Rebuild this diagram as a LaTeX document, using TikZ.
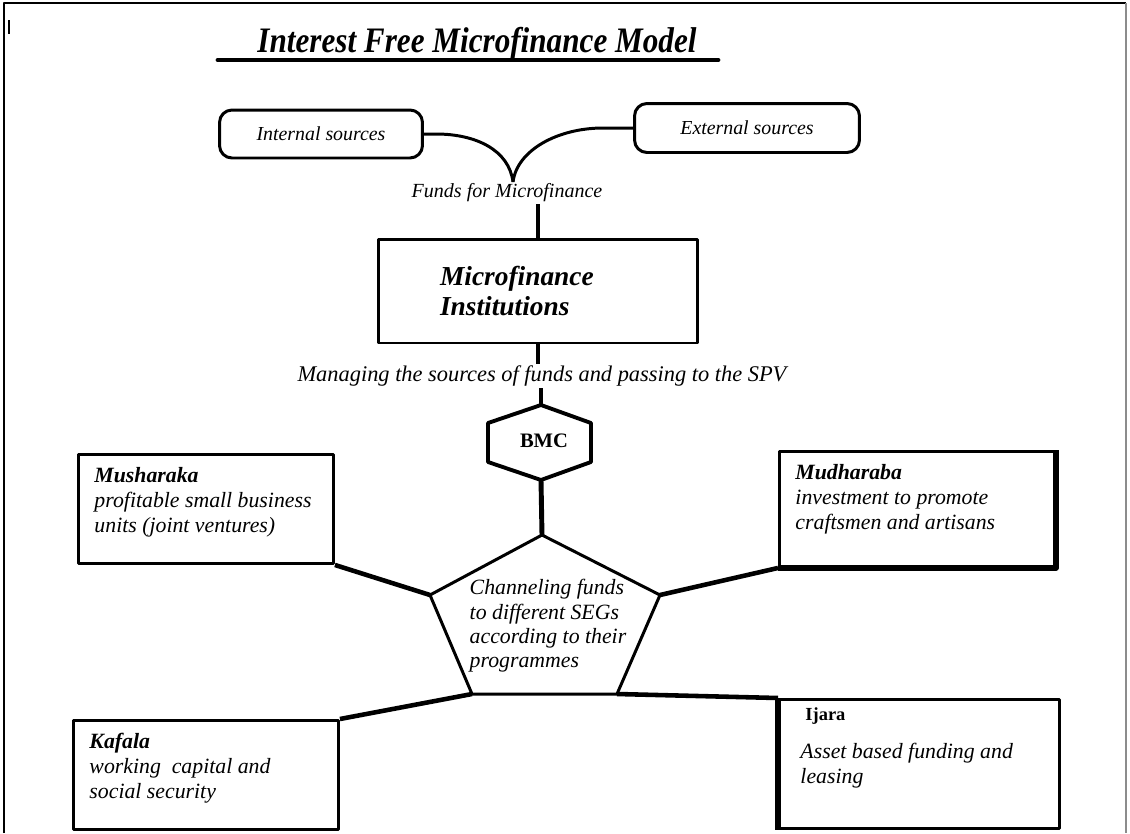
\documentclass[tikz,border=0pt]{standalone}
\usepackage{graphicx}
\usepackage{fontspec}
\setmainfont{Liberation Serif}
\usepackage{tikz}
\newcommand{\boxtext}[3]{\parbox[c][#2][t]{#1}{#3}}

\begin{document}
\begin{tikzpicture}[x=.02cm,y=-.02cm,line join=round,
  box/.style={draw,line width=1.7pt,anchor=north west,inner xsep=.32cm,inner ysep=.26cm,font=\fontsize{12.4}{14.2}\selectfont\itshape},
  src/.style={draw,line width=1.7pt,rounded corners=.25cm,font=\fontsize{11.3}{13}\selectfont\itshape},
  note/.style={inner sep=1pt,font=\fontsize{11.4}{13}\selectfont\itshape},
  rim/.style={line width=1.7pt},link/.style={line width=2.6pt}]
\useasboundingbox (0,0) rectangle (1130,833);
\draw[line width=1.1pt] (4,833)--(4,3)--(1126,3);\draw[black!45,line width=.6pt] (1126,3)--(1126,833);
\draw[line width=1.1pt] (9,20)--(9,34);
% title
\node[inner sep=0,font=\fontsize{20.4}{24}\selectfont\bfseries\itshape] (title) at (477,44) {\scalebox{.87}[1]{Interest Free Microfinance Model}};
\draw[line width=2.8pt,line cap=round] (218,60)--(718,60);
% sources of funds
\node[src,minimum width=4.06cm,minimum height=.96cm] (int) at (321,134) {Internal sources};
\node[src,minimum width=4.5cm,minimum height=.98cm] (ext) at (747,128) {External sources};
\coordinate (join) at (513,182);
\draw[rim] (int.east) -- ++(12,0) .. controls +(40,0) and +(-4,-32) .. (join);
\draw[rim] (ext.west) -- ++(-30,0) .. controls +(-45,0) and +(4,-32) .. (join);
\node[note] (funds) at (507,193) {Funds for Microfinance};
\node[draw,line width=1.7pt,minimum width=6.4cm,minimum height=2.08cm,text width=3.92cm,inner xsep=1.24cm,align=left,font=\fontsize{15.6}{17}\selectfont\bfseries\itshape] (mfi) at (538,291) {Microfinance\\Institutions};
\draw[link] (mfi.north |- funds.south)--(mfi.north);
\node[note,font=\fontsize{12.75}{15}\selectfont\itshape] (manage) at (542,376) {Managing the sources of funds and passing to the SPV};
\draw[link] (mfi.south)--(mfi.south |- manage.north);
% BMC
\coordinate (h1) at (541,405);\coordinate (h2) at (591,423);\coordinate (h3) at (591,462);
\coordinate (h4) at (541,480);\coordinate (h5) at (488,462);\coordinate (h6) at (488,423);
\draw[line width=2.2pt] (h1)--(h2)--(h3)--(h4)--(h5)--(h6)--cycle;
\node[font=\fontsize{11.7}{13}\selectfont\bfseries] (bmc) at (544,441) {BMC};
\draw[link] (manage.south -| h1)--(h1);
% channeling
\coordinate (p1) at (542,535);\coordinate (p2) at (660,595);\coordinate (p3) at (617,694);
\coordinate (p4) at (472,694);\coordinate (p5) at (430,595);
\draw[rim] (p1)--(p2)--(p3)--(p4)--(p5)--cycle;
\node[align=left,inner sep=0,font=\fontsize{12.4}{13.8}\selectfont\itshape] (pent) at (548,626) {Channeling funds\\to different SEGs\\according to their\\programmes};
\draw[line width=2.8pt] (h4)--(p1);
% modes of financing
\node[box] (mush) at (77,453) {\boxtext{4.46cm}{1.66cm}{\textbf{Musharaka}\\profitable small business\\units (joint ventures)}};
\node[box] (mudh) at (778,450) {\boxtext{4.86cm}{1.78cm}{\textbf{Mudharaba}\\investment to promote\\craftsmen and artisans}};
\draw[line width=3.4pt] (mudh.north east)--(mudh.south east)--(mudh.south west);
\node[box] (kaf) at (72,719) {\boxtext{4.66cm}{1.66cm}{\textbf{Kafala}\\working~~capital and\\social security}};
\node[box,inner xsep=.42cm,inner ysep=.16cm] (ijr) at (778,698) {\boxtext{4.76cm}{2.26cm}{\hspace{.1cm}{\upshape\bfseries\fontsize{10.5}{12}\selectfont Ijara}\\[.26cm]Asset based funding and\\leasing}};
\draw[line width=3.4pt] (ijr.north west)--(ijr.south west);
\draw[rim] ([yshift=-3pt]ijr.south west)--([yshift=-3pt]ijr.south east);
\draw[rim] ([yshift=-3pt]ijr.south west)--++(0,20);\draw[rim] ([yshift=-3pt]ijr.south east)--++(0,20);
\draw[link] (mush.south east)--(p5);
\draw[link] (mudh.south west)--(p2);
\draw[link] (kaf.north east)--(p4);
\draw[link] (p3)--(ijr.north west);
\end{tikzpicture}
\end{document}
